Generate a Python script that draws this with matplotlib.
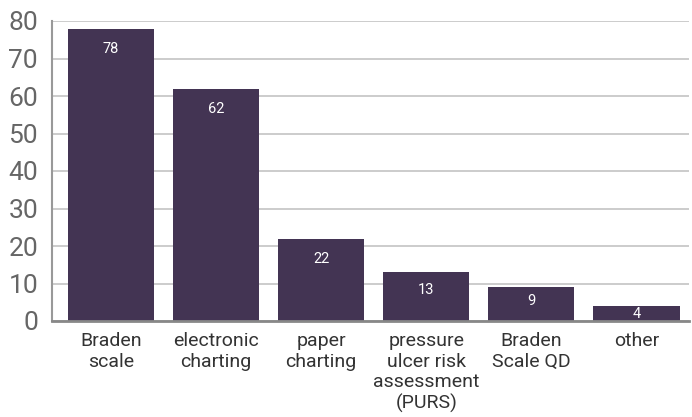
import matplotlib.pyplot as plt

categories = ["Braden\nscale", "electronic\ncharting", "paper\ncharting",
              "pressure\nulcer risk\nassessment\n(PURS)", "Braden\nScale QD", "other"]
counts = [78, 62, 22, 13, 9, 4]
yticks = [0, 10, 20, 30, 40, 50, 60, 70, 80]

plt.rcParams['font.family'] = ['Roboto', 'DejaVu Sans']

fig = plt.figure(figsize=(6.92, 4.17), dpi=100)
ax = fig.add_axes([52 / 692, 96 / 417, 637 / 692, 300 / 417])

x = range(len(categories))
bars = ax.bar(x, counts, width=0.82, color='#433453', zorder=3)
for xi, v in zip(x, counts):
    # label sits a bit below the bar top, closer for short bars
    off = min(5.4, 0.3 * v + 0.9)
    ax.text(xi, v - off, str(v), ha='center', va='center', color='white', fontsize=10.5, zorder=4)

ax.set_xlim(-0.56, len(categories) - 0.5)
ax.set_ylim(0, 80)
ax.set_yticks(yticks)
ax.set_yticklabels([str(t) for t in yticks], fontsize=19, color='#666666')
ax.set_xticks(list(x))
ax.set_xticklabels(categories, fontsize=14, color='#333333', linespacing=1.18, va='top')
ax.tick_params(axis='both', length=0)
ax.tick_params(axis='x', pad=8)
ax.tick_params(axis='y', pad=10)
ax.grid(axis='y', color='#c4c4c4', linewidth=1.2, zorder=0)
for side in ['top', 'right']:
    ax.spines[side].set_visible(False)
ax.spines['left'].set_color('#999999')
ax.spines['left'].set_linewidth(1.5)
ax.spines['bottom'].set_color('#888888')
ax.spines['bottom'].set_linewidth(2)
ax.spines['bottom'].set_zorder(5)

fig.savefig('out.png', dpi=100)
